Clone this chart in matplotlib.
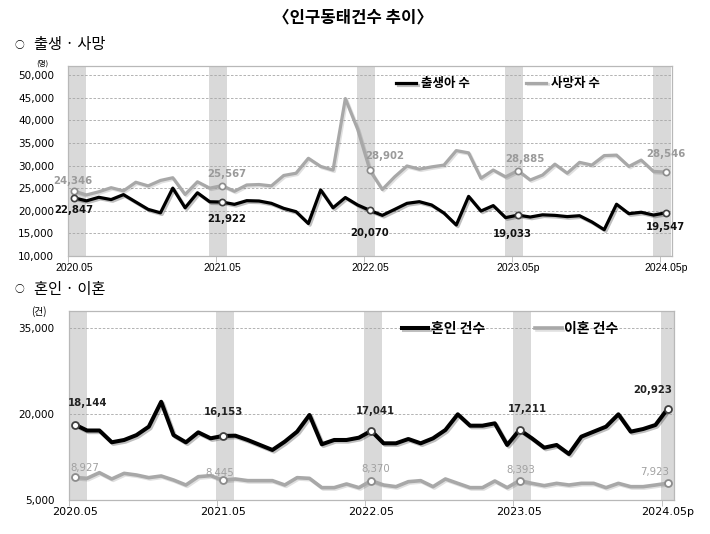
import matplotlib
matplotlib.use("Agg")
import matplotlib.pyplot as plt
import matplotlib.patheffects as pe

plt.rcParams['font.family'] = ['Noto Sans CJK KR', 'DejaVu Sans']

# monthly categories 2020.05 ~ 2024.05
months = [f"{2020 + (4 + k) // 12}.{(4 + k) % 12 + 1:02d}" for k in range(49)]
marked = [0, 12, 24, 36, 48]

top_ticklabels = ["2020.05", "2021.05", "2022.05", "2023.05p", "2024.05p"]
bot_ticklabels = ["2020.05", "2021.05", "2022.05", "2023.05", "2024.05p"]

births = [22847, 22193, 22977, 22472, 23566, 21934, 20309, 19546, 25003, 20654,
          23975, 21987, 21922, 21419, 22229, 22156, 21640, 20535, 19798, 17179,
          24598, 20654, 22925, 21272, 20070, 18988, 20300, 21640, 22008, 21272,
          19500, 16851, 23179, 19939, 21138, 18484, 19033, 18615, 19102, 18984,
          18707, 18904, 17531, 15815, 21442, 19362, 19669, 19049, 19547]
deaths = [24346, 23500, 24200, 25100, 24400, 26300, 25500, 26700, 27300, 23600,
          26400, 25000, 25567, 24300, 25700, 25800, 25500, 27800, 28300, 31600,
          29800, 29000, 44800, 38000, 28902, 24700, 27500, 29900, 29200, 29700,
          30100, 33300, 32800, 27200, 29000, 27500, 28885, 26800, 27900, 30300,
          28300, 30700, 30100, 32200, 32300, 29800, 31200, 28700, 28546]
marriages = [18144, 17100, 17100, 15050, 15450, 16300, 17770, 22100, 16300, 15040,
             16780, 15740, 16153, 16200, 15450, 14580, 13710, 15160, 16900, 19800,
             14700, 15450, 15450, 15850, 17041, 14870, 14870, 15620, 14870, 15740,
             17190, 19920, 17940, 17940, 18350, 14580, 17211, 15740, 14110, 14580,
             13010, 16030, 16900, 17770, 19920, 16900, 17360, 18060, 20923]
divorces = [8927, 8770, 9760, 8660, 9640, 9350, 8890, 9180, 8480, 7610,
            9060, 9240, 8445, 8660, 8370, 8370, 8370, 7610, 8890, 8770,
            7150, 7150, 7790, 7150, 8370, 7610, 7320, 8190, 8370, 7320,
            8660, 7900, 7150, 7150, 8310, 7150, 8393, 7900, 7500, 7900,
            7610, 7900, 7900, 7150, 7900, 7320, 7320, 7610, 7923]

BAND = "#d9d9d9"
GRID = "#a6a6a6"
FRAME = "#b8b8b8"
NUM = "DejaVu Sans"

fig = plt.figure(figsize=(7.1, 5.34), dpi=100)
fig.text(0.497, 0.968, "〈인구동태건수 추이〉", ha="center", va="center",
         fontsize=12, fontweight="bold")
for y, txt in [(0.916, "출생 · 사망"), (0.458, "혼인 · 이혼")]:
    fig.text(0.021, y, "○", ha="left", va="center", fontsize=7)
    fig.text(0.048, y, txt, ha="left", va="center", fontsize=11)

dark_shadow = [pe.SimpleLineShadow(offset=(1.2, -1.2), alpha=0.25), pe.Normal()]
soft_shadow = [pe.SimpleLineShadow(offset=(1.0, -1.0), alpha=0.12), pe.Normal()]


def setup(ax, ymin, ymax, yticks, grid, ticklabels, bands, tickfont, tickpt):
    x = list(range(len(months)))
    ax.set_xlim(-0.5, len(months) - 0.5)
    ax.set_ylim(ymin, ymax)
    for i, (a, b) in zip(marked, bands):
        ax.axvspan(i + a, i + b, color=BAND, lw=0, zorder=0)
    for g in grid:
        ax.axhline(g, color=GRID, lw=0.6, ls=(0, (3, 2)), zorder=1)
    ax.set_yticks(yticks)
    ax.set_yticklabels([f"{v:,}" for v in yticks], fontfamily=NUM, fontsize=7.5)
    ax.tick_params(axis="y", length=0, pad=10)
    ax.set_xticks(marked)
    ax.set_xticklabels(ticklabels, fontfamily=tickfont, fontsize=tickpt)
    ax.set_xticks([i - 0.5 for i in marked], minor=True)
    ax.tick_params(axis="x", which="major", length=0, pad=5)
    ax.tick_params(axis="x", which="minor", length=4, color=FRAME, direction="out")
    for s in ax.spines.values():
        s.set_color(FRAME)
        s.set_linewidth(0.9)
    return x


def label_points(ax, series, offsets, color, weight):
    for i, (dx, dy) in zip(marked, offsets):
        ax.annotate(f"{series[i]:,}", (i, series[i]), xytext=(dx * 0.72, -dy * 0.72),
                    textcoords="offset points", ha="center", va="center",
                    fontfamily=NUM, fontsize=7.3, color=color, fontweight=weight,
                    zorder=6)


# ---- top: births / deaths
ax1 = fig.add_axes([68 / 710, 1 - 256 / 534, 604 / 710, 190 / 534])
x = setup(ax1, 10000, 52000, list(range(10000, 50001, 5000)),
          list(range(15000, 50001, 5000)), top_ticklabels,
          [(-0.4, 1.0)] + [(-1.05, 0.4)] * 4, "Liberation Sans", 7.5)
ax1.plot(x, deaths, color="#a8a8a8", lw=2.3, zorder=3, label="사망자 수",
         path_effects=soft_shadow, solid_joinstyle="round")
ax1.plot(x, births, color="#000000", lw=2.3, zorder=4, label="출생아 수",
         path_effects=dark_shadow, solid_joinstyle="round")
ax1.plot(marked, [deaths[i] for i in marked], ls="none", marker="o", ms=4.5,
         mfc="white", mec="#8c8c8c", mew=1.2, zorder=5)
ax1.plot(marked, [births[i] for i in marked], ls="none", marker="o", ms=4.5,
         mfc="white", mec="#404040", mew=1.2, zorder=5)
label_points(ax1, births, [(0, 12), (5, 17), (0, 23), (-6, 19), (0, 14)], "#111111", "bold")
label_points(ax1, deaths, [(-1, -10), (5, -12), (15, -14), (7, -12), (0, -18)], "#9a9a9a", "bold")
h, l = ax1.get_legend_handles_labels()
ax1.legend(h[::-1], l[::-1], ncol=2, loc="upper left", bbox_to_anchor=(0.525, 1.0),
           frameon=False, handlelength=1.6, columnspacing=4.5, handletextpad=0.4,
           prop={"size": 9, "weight": "bold"})
fig.text(42 / 710, 1 - 64 / 534, "(명)", ha="center", va="center", fontsize=5.5)

# ---- bottom: marriages / divorces
ax2 = fig.add_axes([68.5 / 710, 1 - 500 / 534, 605.5 / 710, 189.3 / 534])
x = setup(ax2, 5000, 37960, [5000, 20000, 35000], [20000, 35000], bot_ticklabels,
          [(-0.45, 1.0)] + [(-0.55, 0.9)] * 4, NUM, 8)
ax2.plot(x, divorces, color="#a8a8a8", lw=2.6, zorder=3, label="이혼 건수",
         path_effects=soft_shadow, solid_joinstyle="round")
ax2.plot(x, marriages, color="#000000", lw=2.9, zorder=4, label="혼인 건수",
         path_effects=dark_shadow, solid_joinstyle="round")
ax2.plot(marked, [divorces[i] for i in marked], ls="none", marker="o", ms=5,
         mfc="white", mec="#8c8c8c", mew=1.3, zorder=5)
ax2.plot(marked, [marriages[i] for i in marked], ls="none", marker="o", ms=5,
         mfc="white", mec="#404040", mew=1.3, zorder=5)
label_points(ax2, marriages, [(13, -22), (0, -24), (4, -20), (8, -21), (-15, -19)], "#222222", "bold")
label_points(ax2, divorces, [(10, -9), (-3, -7), (5, -12), (1, -11), (-13, -11)], "#a0a0a0", "normal")
h, l = ax2.get_legend_handles_labels()
ax2.legend(h[::-1], l[::-1], ncol=2, loc="upper left", bbox_to_anchor=(0.53, 1.005),
           frameon=False, handlelength=1.9, columnspacing=3.6, handletextpad=0.2,
           prop={"size": 10, "weight": "bold"})
fig.text(39 / 710, 1 - 312 / 534, "(건)", ha="center", va="center", fontsize=7)

fig.savefig("out.png", dpi=100)
